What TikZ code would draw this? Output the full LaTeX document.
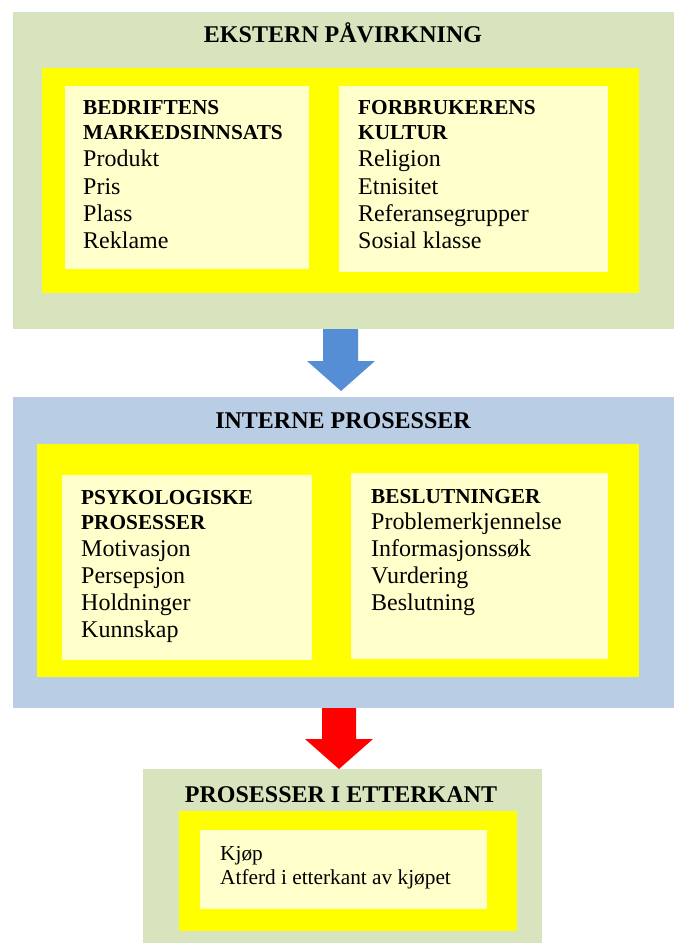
\documentclass[tikz,border=0pt]{standalone}
\usepackage{fontspec}
\setmainfont{Liberation Serif}
\usetikzlibrary{calc}
\definecolor{olivebg}{HTML}{D7E4BD}
\definecolor{bluebg}{HTML}{B9CDE5}
\definecolor{yel}{HTML}{FFFF00}
\definecolor{pale}{HTML}{FFFFCC}
\definecolor{arrowblue}{HTML}{558ED5}
\definecolor{arrowred}{HTML}{FF0000}
\begin{document}
\begin{tikzpicture}[x=1pt,y=-1pt,
  box/.style={anchor=north west, inner sep=0pt, outer sep=0pt, draw=none},
  titletext/.style={font=\fontsize{24}{28}\selectfont\bfseries, inner sep=0pt, anchor=base},
  headtext/.style={font=\fontsize{21.3}{25}\selectfont\bfseries, inner sep=0pt, anchor=base west},
  bodytext/.style={font=\fontsize{24}{28}\selectfont, inner sep=0pt, anchor=base west},
  smalltext/.style={font=\fontsize{21.3}{25}\selectfont, inner sep=0pt, anchor=base west}]
\useasboundingbox (0,0) rectangle (675,944);

% ---------- EKSTERN PÅVIRKNING ----------
\node[box, fill=olivebg, minimum width=661pt, minimum height=317pt] (ext) at (13,12) {};
\node[box, fill=yel, minimum width=597pt, minimum height=225pt] (extY) at (42,68) {};
\node[box, fill=pale, minimum width=244pt, minimum height=183pt] (extL) at (65,86) {};
\node[box, fill=pale, minimum width=269pt, minimum height=186pt] (extR) at (339,86) {};
\node[titletext] (extT) at (343,43) {EKSTERN PÅVIRKNING};

\node[headtext] (eL1) at (83,115) {BEDRIFTENS};
\node[headtext] (eL2) at (83,140) {MARKEDSINNSATS};
\foreach \t [count=\i] in {Produkt,Pris,Plass,Reklame}
  \node[bodytext] (eLb\i) at (83,{167+(\i-1)*27.3}) {\t};

\node[headtext] (eR1) at (358,115) {FORBRUKERENS};
\node[headtext] (eR2) at (358,140) {KULTUR};
\foreach \t [count=\i] in {Religion,Etnisitet,Referansegrupper,Sosial klasse}
  \node[bodytext] (eRb\i) at (358,{167+(\i-1)*27.3}) {\t};

% ---------- INTERNE PROSESSER ----------
\node[box, fill=bluebg, minimum width=661pt, minimum height=311pt] (int) at (13,397) {};
\node[box, fill=yel, minimum width=602pt, minimum height=233pt] (intY) at (37,444) {};
\node[box, fill=pale, minimum width=250pt, minimum height=185pt] (intL) at (62,475) {};
\node[box, fill=pale, minimum width=257pt, minimum height=186pt] (intR) at (351,473) {};
\node[titletext] (intT) at (343,428) {INTERNE PROSESSER};

\node[headtext] (iL1) at (81,504) {PSYKOLOGISKE};
\node[headtext] (iL2) at (81,529) {PROSESSER};
\foreach \t [count=\i] in {Motivasjon,Persepsjon,Holdninger,Kunnskap}
  \node[bodytext] (iLb\i) at (81,{556+(\i-1)*27.2}) {\t};

\node[headtext] (iR1) at (371,503) {BESLUTNINGER};
\foreach \t [count=\i] in {Problemerkjennelse,Informasjonssøk,Vurdering,Beslutning}
  \node[bodytext] (iRb\i) at (371,{529+(\i-1)*27.3}) {\t};

% ---------- PROSESSER I ETTERKANT ----------
\node[box, fill=olivebg, minimum width=399pt, minimum height=174pt] (post) at (143,769) {};
\node[box, fill=yel, minimum width=338pt, minimum height=120pt] (postY) at (179,811) {};
\node[box, fill=pale, minimum width=287pt, minimum height=79pt] (postP) at (200,830) {};
\node[titletext] (postT) at (341,802) {PROSESSER I ETTERKANT};
\node[smalltext] (pb1) at (220,860) {Kjøp};
\node[smalltext] (pb2) at (220,884) {Atferd i etterkant av kjøpet};

% ---------- block arrows ----------
\fill[arrowblue] ($(ext.south)+(-20.5,0)$) -- ($(ext.south)+(14.5,0)$)
  -- ($(ext.south)+(14.5,32)$) -- ($(ext.south)+(31.5,32)$)
  -- ($(int.north)+(-2.5,-6)$)
  -- ($(ext.south)+(-36.5,32)$) -- ($(ext.south)+(-20.5,32)$) -- cycle;

\fill[arrowred] ($(int.south)+(-21.5,0)$) -- ($(int.south)+(12.5,0)$)
  -- ($(int.south)+(12.5,31)$) -- ($(int.south)+(29.5,31)$)
  -- ($(post.north)+(-3.5,0)$)
  -- ($(int.south)+(-38.5,31)$) -- ($(int.south)+(-21.5,31)$) -- cycle;
\end{tikzpicture}
\end{document}
